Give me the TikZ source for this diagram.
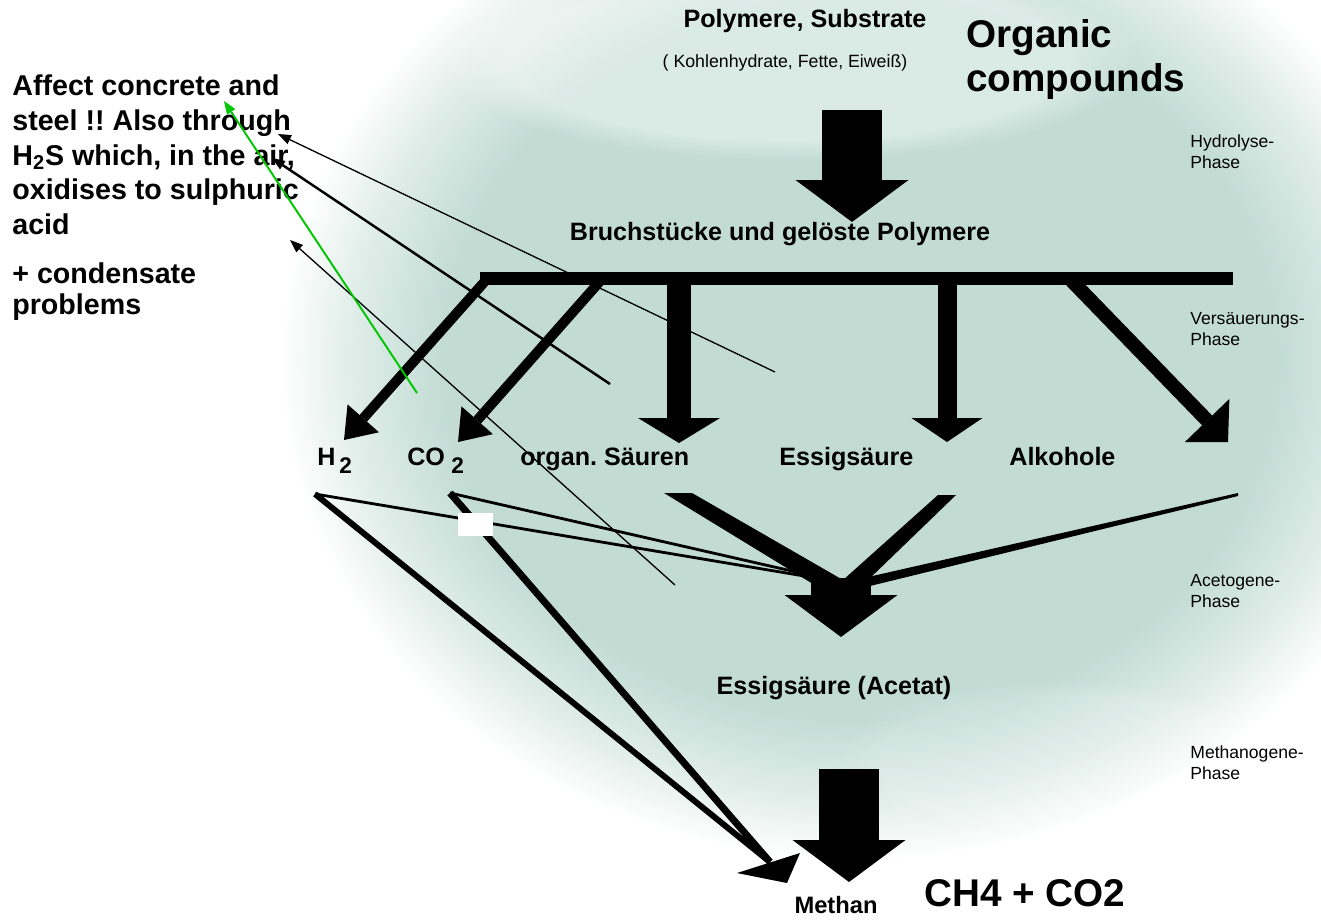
\documentclass[tikz,border=0pt]{standalone}
\usepackage{fontspec}
\usepackage{graphicx}
\setsansfont{Liberation Sans}
\usetikzlibrary{arrows.meta,fadings}
\frenchspacing
\definecolor{cloud}{RGB}{194,220,212}
\definecolor{notegreen}{RGB}{0,200,0}
\pgfdeclareradialshading{cloudfade}{\pgfpoint{0bp}{0bp}}{%
  color(0bp)=(cloud); color(18bp)=(cloud); color(22bp)=(cloud!50!white); color(25bp)=(white); color(50bp)=(white)}
\newcommand{\lowtwo}{\raisebox{-0.32em}{\scalebox{0.9}{2}}}
\tikzset{
  lbl/.style={font=\sffamily\bfseries\fontsize{14.3}{17}\selectfont, inner sep=0pt, anchor=base},
  bigtxt/.style={font=\sffamily\bfseries\fontsize{22}{25}\selectfont, inner sep=0pt, align=left},
  leftnote/.style={font=\sffamily\bfseries\fontsize{16.3}{19.9}\selectfont, inner sep=0pt, align=left, anchor=north west},
  phase/.style={font=\sffamily\fontsize{10}{12}\selectfont, inner sep=0pt, align=left, anchor=north west},
  bigarrow/.style={line width=33.6pt, -{Triangle[length=0.84cm, width=2.26cm, line width=0pt]}},
  branch/.style={line width=5.7pt, -{Triangle[length=0.58cm, width=0.84cm, line width=0pt]}},
  pointer/.style={line width=0.75pt, -{Triangle[length=0.26cm, width=0.2cm, line width=0pt]}},
  haze/.style={white, path fading=circle with fuzzy edge 20 percent}
}
\begin{document}
\begin{tikzpicture}[x=0.02cm, y=-0.02cm, font=\sffamily]
	%background
	\useasboundingbox (0,0) rectangle (1321,922);
	\shade[shading=cloudfade] (860,360) ellipse [x radius=11.6cm, y radius=10cm];
	\fill[haze, opacity=0.4] (790,60) ellipse [x radius=7cm, y radius=2cm];
	\fill[haze, opacity=0.15] (1060,760) ellipse [x radius=4.5cm, y radius=1.6cm];
	%notes on the left
	\node[leftnote] (affect) at (12,74) {Affect concrete and\\steel !! Also through\\H\textsubscript{2}S which, in the air,\\oxidises to sulphuric\\acid};
	\node[leftnote, font=\sffamily\bfseries\fontsize{16.3}{17.6}\selectfont] (condens) at (12,262) {+ condensate\\problems};
	%titles
	\node[lbl] (poly) at (805,28) {Polymere, Substrate};
	\node[inner sep=0pt, anchor=base, font=\sffamily\fontsize{10.1}{12}\selectfont] (kohlen) at (785,68) {( Kohlenhydrate, Fette, Eiweiß)};
	\node[bigtxt, anchor=north west] (organic) at (966,19) {Organic\\compounds};
	\node[lbl] (bruch) at (780,240) {Bruchstücke und gelöste Polymere};
	%phases
	\foreach \txt/\yy [count=\i] in {Hydrolyse/134, Versäuerungs/312, Acetogene/574, Methanogene/745}
	\node[phase] (phase\i) at (1190,\yy) {\txt-\\Phase};
	%products
	\node[lbl, anchor=base west] (hzwei) at (317,465) {H\hspace{0.15em}\lowtwo};
	\node[lbl, anchor=base west] (cozwei) at (407,465) {CO\hspace{0.25em}\lowtwo};
	\node[lbl, anchor=base west] (saeuren) at (520,465) {organ. Säuren};
	\node[lbl, anchor=base west] (essig) at (779,465) {Essigsäure};
	\node[lbl, anchor=base west] (alkohol) at (1009,465) {Alkohole};
	\node[lbl] (acetat) at (834,694) {Essigsäure (Acetat)};
	\node[lbl, font=\sffamily\bfseries\fontsize{13.5}{16}\selectfont] (methan) at (836,913) {Methan};
	\node[bigtxt, anchor=base west] (chvier) at (924,906) {CH4 + CO2};
	%hydrolysis
	\coordinate (hydro top) at (852,110);
	\coordinate (hydro tip) at (852,222);
	\draw[bigarrow] (hydro top) -- (hydro tip);
	%acidification
	\fill (480,272) rectangle (1233,285);
	\coordinate (bar h2) at (487,279);
	\coordinate (bar co2) at (602,279);
	\coordinate (bar org) at (679,279);
	\coordinate (bar essig) at (947,279);
	\coordinate (bar alk) at (1070,279);
	\coordinate (to h2) at (344,440);
	\coordinate (to co2) at (458,442);
	\coordinate (to org) at (679,443);
	\coordinate (to essig) at (947,442);
	\coordinate (to alk) at (1228,442);
	\draw[branch] (bar h2) -- (to h2);
	\draw[branch] (bar co2) -- (to co2);
	\draw[line width=14.2pt, -{Triangle[length=0.5cm, width=1.64cm, line width=0pt]}] (bar org) -- (to org);
	\draw[line width=10.8pt, -{Triangle[length=0.48cm, width=1.42cm, line width=0pt]}] (bar essig) -- (to essig);
	\draw[line width=8pt, -{Triangle[length=0.6cm, width=1.24cm, line width=0pt]}] (bar alk) -- (to alk);
	%acetogenesis
	\fill (664,493) -- (692,493) -- (843,580) -- (813,584) -- cycle;
	\fill (938,495) -- (956,495) -- (868,580) -- (843,580) -- cycle;
	\fill (1238,493) -- (1238,496) -- (870,586) -- (868,577) -- cycle;
	\coordinate (apex h2) at (315,494);
	\coordinate (apex co2) at (450,493);
	\coordinate (conv) at (840,582);
	\coordinate (meth end) at (770,862);
	\draw[line width=1.6pt] (apex h2) -- (conv);
	\draw[line width=1.6pt] (apex co2) -- (conv);
	\draw[line width=3.4pt] (apex h2) -- (meth end);
	\draw[line width=4pt] (apex co2) -- (meth end);
	\fill (787,883) -- (737,873) -- (800,853) -- cycle;
	\coordinate (aceto top) at (841,578);
	\coordinate (aceto tip) at (841,637);
	\draw[bigarrow] (aceto top) -- (aceto tip);
	%methanogenesis
	\coordinate (meth top) at (849,769);
	\coordinate (meth tip) at (849,882);
	\draw[bigarrow] (meth top) -- (meth tip);
	%pointers to the note
	\coordinate (p1) at (775,372);
	\coordinate (q1) at (278,134);
	\coordinate (p2) at (610,384);
	\coordinate (q2) at (272,158);
	\coordinate (p3) at (675,585);
	\coordinate (q3) at (290,240);
	\coordinate (p4) at (417,393);
	\coordinate (q4) at (224,101);
	\draw[pointer] (p1) -- (q1);
	\draw[pointer, line width=1.4pt] (p2) -- (q2);
	\draw[pointer] (p3) -- (q3);
	\draw[pointer, notegreen, line width=1.1pt] (p4) -- (q4);
	\fill[white] (458,513) rectangle (493,536);
\end{tikzpicture}
\end{document}
